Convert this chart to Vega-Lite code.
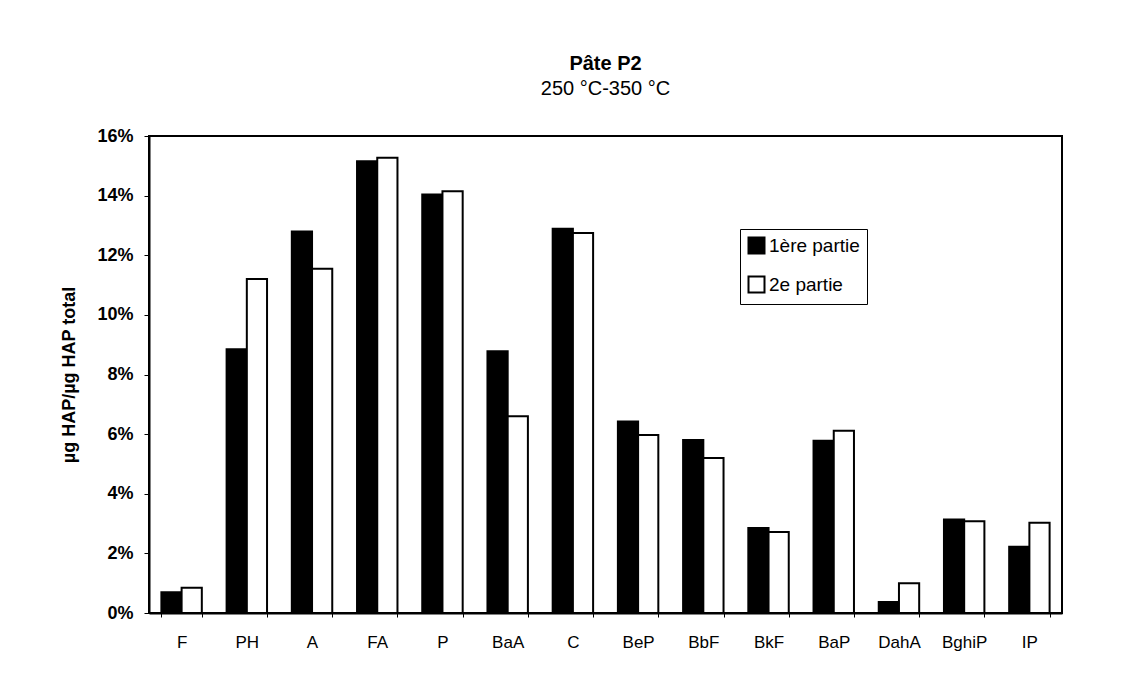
{
  "$schema": "https://vega.github.io/schema/vega-lite/v6.json",
  "width": 913,
  "height": 477,
  "autosize": {"type": "none"},
  "padding": {"left": 149, "top": 136, "right": 65, "bottom": 80},
  "background": "white",
  "title": {
    "text": "Pâte P2",
    "subtitle": "250 °C-350 °C",
    "anchor": "middle",
    "font": "Liberation Sans",
    "fontSize": 20,
    "fontWeight": "bold",
    "color": "black",
    "subtitleFont": "Liberation Sans",
    "subtitleFontSize": 20,
    "subtitleColor": "black",
    "subtitlePadding": 5,
    "offset": 28
  },
  "data": {
    "values": [
      {"compose": "F", "partie": "1ère partie", "v": 0.0070},
      {"compose": "F", "partie": "2e partie", "v": 0.0085},
      {"compose": "PH", "partie": "1ère partie", "v": 0.0885},
      {"compose": "PH", "partie": "2e partie", "v": 0.1120},
      {"compose": "A", "partie": "1ère partie", "v": 0.1280},
      {"compose": "A", "partie": "2e partie", "v": 0.1155},
      {"compose": "FA", "partie": "1ère partie", "v": 0.1515},
      {"compose": "FA", "partie": "2e partie", "v": 0.1527},
      {"compose": "P", "partie": "1ère partie", "v": 0.1404},
      {"compose": "P", "partie": "2e partie", "v": 0.1415},
      {"compose": "BaA", "partie": "1ère partie", "v": 0.0878},
      {"compose": "BaA", "partie": "2e partie", "v": 0.0660},
      {"compose": "C", "partie": "1ère partie", "v": 0.1289},
      {"compose": "C", "partie": "2e partie", "v": 0.1275},
      {"compose": "BeP", "partie": "1ère partie", "v": 0.0642},
      {"compose": "BeP", "partie": "2e partie", "v": 0.0597},
      {"compose": "BbF", "partie": "1ère partie", "v": 0.0580},
      {"compose": "BbF", "partie": "2e partie", "v": 0.0520},
      {"compose": "BkF", "partie": "1ère partie", "v": 0.0285},
      {"compose": "BkF", "partie": "2e partie", "v": 0.0272},
      {"compose": "BaP", "partie": "1ère partie", "v": 0.0578},
      {"compose": "BaP", "partie": "2e partie", "v": 0.0611},
      {"compose": "DahA", "partie": "1ère partie", "v": 0.0037},
      {"compose": "DahA", "partie": "2e partie", "v": 0.0100},
      {"compose": "BghiP", "partie": "1ère partie", "v": 0.0314},
      {"compose": "BghiP", "partie": "2e partie", "v": 0.0308},
      {"compose": "IP", "partie": "1ère partie", "v": 0.0222},
      {"compose": "IP", "partie": "2e partie", "v": 0.0303}
    ]
  },
  "mark": {"type": "bar", "stroke": "black", "strokeWidth": 2},
  "encoding": {
    "x": {
      "field": "compose",
      "type": "nominal",
      "sort": null,
      "title": null,
      "scale": {"paddingInner": 0.38, "paddingOuter": 0.19},
      "axis": {
        "labelAngle": 0,
        "labelFont": "Liberation Sans",
        "labelFontSize": 17,
        "labelColor": "black",
        "labelPadding": 17,
        "tickBand": "extent",
        "tickSize": 4,
        "tickColor": "black",
        "domainColor": "black",
        "domainWidth": 2
      }
    },
    "xOffset": {"field": "partie", "type": "nominal", "sort": ["1ère partie", "2e partie"]},
    "y": {
      "field": "v",
      "type": "quantitative",
      "title": "µg HAP/µg HAP total",
      "scale": {"domain": [0, 0.16], "nice": false},
      "axis": {
        "format": ".0%",
        "values": [0, 0.02, 0.04, 0.06, 0.08, 0.1, 0.12, 0.14, 0.16],
        "grid": false,
        "labelFont": "Liberation Sans",
        "labelFontSize": 18,
        "labelFontWeight": "bold",
        "labelColor": "black",
        "labelPadding": 11,
        "tickSize": 5,
        "tickColor": "black",
        "domainColor": "black",
        "domainWidth": 2,
        "titleFont": "Liberation Sans",
        "titleFontSize": 18,
        "titleFontWeight": "bold",
        "titleColor": "black",
        "titlePadding": 18
      }
    },
    "fill": {
      "field": "partie",
      "type": "nominal",
      "scale": {"domain": ["1ère partie", "2e partie"], "range": ["black", "white"]},
      "legend": {
        "title": null,
        "orient": "none",
        "legendX": 591,
        "legendY": 93,
        "symbolType": "square",
        "symbolSize": 256,
        "symbolStrokeColor": "black",
        "symbolStrokeWidth": 2,
        "labelFont": "Liberation Sans",
        "labelFontSize": 19,
        "labelColor": "black",
        "labelOffset": 3,
        "rowPadding": 14,
        "strokeColor": "black",
        "padding": 7,
        "fillColor": "white"
      }
    }
  },
  "config": {
    "view": {"stroke": "black", "strokeWidth": 2}
  }
}
